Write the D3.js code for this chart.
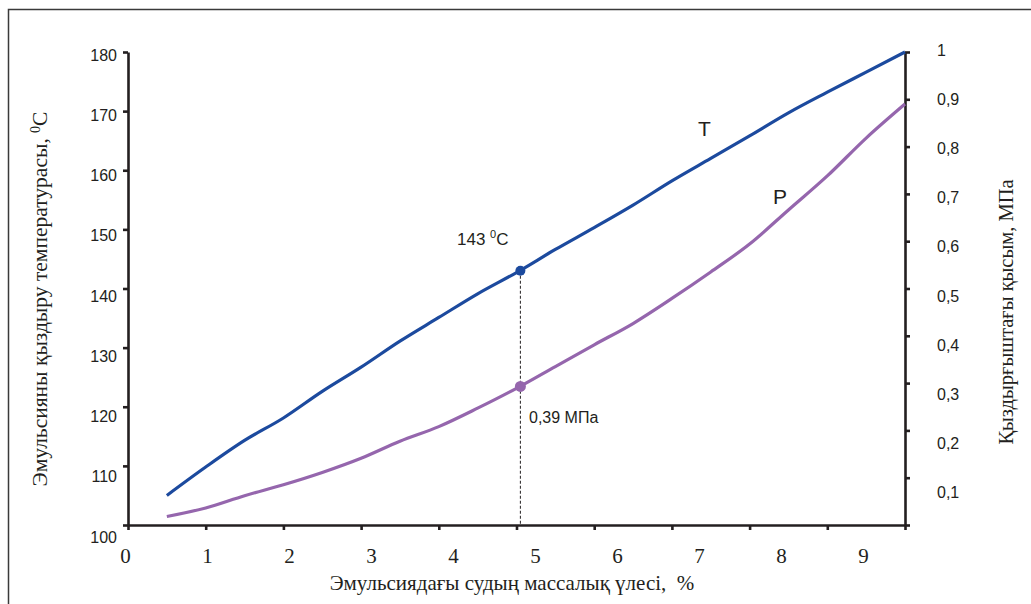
<!DOCTYPE html>
<html>
<head>
<meta charset="utf-8">
<script src="https://cdn.jsdelivr.net/npm/d3@7"></script>
<style>
  body { margin: 0; background: #fff; }
  svg { display: block; }
</style>
</head>
<body>
<div id="chart"></div>
<script>
// Water share in emulsion, %
const waterShare = [0.5, 1, 1.5, 2, 2.5, 3, 3.5, 4, 4.5, 5, 5.5, 6, 6.5, 7, 7.5, 8, 8.5, 9, 9.5, 10];
// T, emulsion heating temperature, 0C (left axis)
const tempC = [105, 109.8, 114.3, 118.1, 122.6, 126.7, 131.1, 135.1, 139.1, 142.7,
               146.6, 150.3, 154.1, 158.2, 162.0, 165.8, 169.7, 173.2, 176.6, 180];
// P, heater pressure, MPa (right axis)
const pressMPa = [0.018, 0.036, 0.062, 0.085, 0.111, 0.141, 0.177, 0.208, 0.247, 0.289,
                  0.335, 0.381, 0.426, 0.479, 0.535, 0.594, 0.666, 0.738, 0.818, 0.89];

// marked point
const markX = 5.05;
const markT = 143;
const markP = 0.293;

const xTicks = [0, 1, 2, 3, 4, 5, 6, 7, 8, 9, 10];
const xLabels = [0, 1, 2, 3, 4, 5, 6, 7, 8, 9];
const tTicks = [100, 110, 120, 130, 140, 150, 160, 170, 180];
const pTicks = [0, 0.1, 0.2, 0.3, 0.4, 0.5, 0.6, 0.7, 0.8, 0.9, 1];
const pLabels = [0.1, 0.2, 0.3, 0.4, 0.5, 0.6, 0.7, 0.8, 0.9, 1];

const width = 1031, height = 604;
const margin = { left: 128, right: 905, top: 52, bottom: 525 };

const blue = "#1c4a9e", purple = "#9566ad", ink = "#231f20";
const sans = "'Liberation Sans', Arial, sans-serif";
const serif = "'Liberation Serif', 'Times New Roman', serif";

const svg = d3.select("#chart").append("svg")
    .attr("width", width)
    .attr("height", height);

// frame (open at right / bottom, cropped)
svg.append("path")
    .attr("d", `M8.5,${height} V9.5 H${width}`)
    .attr("fill", "none")
    .attr("stroke", "#3a3a3a")
    .attr("stroke-width", 1.5);

// scales
const x = d3.scaleLinear().domain([0, 10]).range([margin.left, margin.right]);
const yT = d3.scaleLinear().domain([100, 180]).range([margin.bottom, margin.top]);
const yP = d3.scaleLinear().domain([0, 1]).range([margin.bottom, margin.top]);

// the printed labels sit on a slightly wider spacing than the ticks
const xLab = d3.scaleLinear().domain([0, 9]).range([125, 863]);
const tLab = d3.scaleLinear().domain([100, 180]).range([537, 55]);
const pLab = d3.scaleLinear().domain([0.1, 1]).range([492.7, 50]);

const styleAxis = g => {
    g.select(".domain").attr("stroke", ink).attr("stroke-width", 2.6);
    g.selectAll(".tick line").attr("stroke", ink).attr("stroke-width", 2.6);
};

// x axis
svg.append("g")
    .attr("transform", `translate(0,${margin.bottom})`)
    .call(d3.axisBottom(x).tickValues(xTicks).tickSize(5).tickSizeOuter(0).tickFormat(""))
    .call(styleAxis);

svg.append("g")
    .attr("transform", "translate(0,563)")
    .call(d3.axisBottom(xLab).tickValues(xLabels).tickSize(0).tickPadding(0).tickFormat(d3.format("d")))
    .call(g => g.select(".domain").remove())
    .call(g => g.selectAll("text")
        .attr("dy", 0)
        .attr("fill", ink)
        .attr("font-family", serif)
        .attr("font-size", 21));

// left axis (T)
svg.append("g")
    .attr("transform", `translate(${margin.left},0)`)
    .call(d3.axisLeft(yT).tickValues(tTicks).tickSize(5).tickSizeOuter(0).tickFormat(""))
    .call(styleAxis);

svg.append("g")
    .attr("transform", "translate(117,0)")
    .call(d3.axisLeft(tLab).tickValues(tTicks).tickSize(0).tickPadding(0).tickFormat(d3.format("d")))
    .call(g => g.select(".domain").remove())
    .call(g => g.selectAll("text")
        .attr("fill", ink)
        .attr("font-family", sans)
        .attr("font-size", 16));

// right axis (P)
svg.append("g")
    .attr("transform", `translate(${margin.right},0)`)
    .call(d3.axisRight(yP).tickValues(pTicks).tickSize(5).tickSizeOuter(0).tickFormat(""))
    .call(styleAxis);

svg.append("g")
    .attr("transform", "translate(937,0)")
    .call(d3.axisRight(pLab).tickValues(pLabels).tickSize(0).tickPadding(0)
        .tickFormat(d => d === 1 ? "1" : d3.format(".1f")(d).replace(".", ",")))
    .call(g => g.select(".domain").remove())
    .call(g => g.selectAll("text")
        .attr("fill", ink)
        .attr("font-family", sans)
        .attr("font-size", 16));

// axis titles
svg.append("text")
    .attr("x", 512).attr("y", 590)
    .attr("text-anchor", "middle")
    .attr("font-family", serif)
    .attr("font-size", 21)
    .attr("fill", ink)
    .attr("xml:space", "preserve")
    .text("Эмульсиядағы судың массалық үлесі,  %");

const yTitle = svg.append("text")
    .attr("transform", "translate(47,299) rotate(-90)")
    .attr("text-anchor", "middle")
    .attr("font-family", serif)
    .attr("font-size", 21.5)
    .attr("fill", ink);
yTitle.append("tspan").text("Эмульсияны қыздыру температурасы, ");
yTitle.append("tspan").attr("font-size", 14).attr("dy", -7).text("0");
yTitle.append("tspan").attr("dy", 7).text("C");

svg.append("text")
    .attr("transform", "translate(1013,312) rotate(-90)")
    .attr("text-anchor", "middle")
    .attr("font-family", serif)
    .attr("font-size", 20.5)
    .attr("fill", ink)
    .text("Қыздырғыштағы қысым, МПа");

// dashed drop line from the marked point
svg.append("line")
    .attr("x1", x(markX)).attr("x2", x(markX))
    .attr("y1", yT(markT)).attr("y2", margin.bottom)
    .attr("stroke", ink)
    .attr("stroke-width", 1)
    .attr("stroke-dasharray", "3,2");

// curves
const lineT = d3.line()
    .x((d, i) => x(waterShare[i]))
    .y(d => yT(d))
    .curve(d3.curveMonotoneX);

const lineP = d3.line()
    .x((d, i) => x(waterShare[i]))
    .y(d => yP(d))
    .curve(d3.curveMonotoneX);

svg.append("path")
    .datum(pressMPa)
    .attr("d", lineP)
    .attr("fill", "none")
    .attr("stroke", purple)
    .attr("stroke-width", 3.2);

svg.append("path")
    .datum(tempC)
    .attr("d", lineT)
    .attr("fill", "none")
    .attr("stroke", blue)
    .attr("stroke-width", 3.2);

// markers
svg.append("circle")
    .attr("cx", x(markX)).attr("cy", yT(markT)).attr("r", 5)
    .attr("fill", blue);
svg.append("circle")
    .attr("cx", x(markX)).attr("cy", yP(markP)).attr("r", 5.5)
    .attr("fill", purple);

// annotations
const tLabel = svg.append("text")
    .attr("x", 457).attr("y", 245)
    .attr("font-family", sans)
    .attr("font-size", 17)
    .attr("fill", ink);
tLabel.append("tspan").text("143 ");
tLabel.append("tspan").attr("font-size", 11).attr("dy", -7).text("0");
tLabel.append("tspan").attr("dy", 7).text("C");

svg.append("text")
    .attr("x", 529).attr("y", 423)
    .attr("font-family", sans)
    .attr("font-size", 16)
    .attr("fill", ink)
    .text("0,39 МПа");

svg.append("text")
    .attr("x", 698).attr("y", 136)
    .attr("font-family", sans)
    .attr("font-size", 21)
    .attr("fill", ink)
    .text("T");

svg.append("text")
    .attr("x", 773).attr("y", 204)
    .attr("font-family", sans)
    .attr("font-size", 21)
    .attr("fill", ink)
    .text("P");
</script>
</body>
</html>
